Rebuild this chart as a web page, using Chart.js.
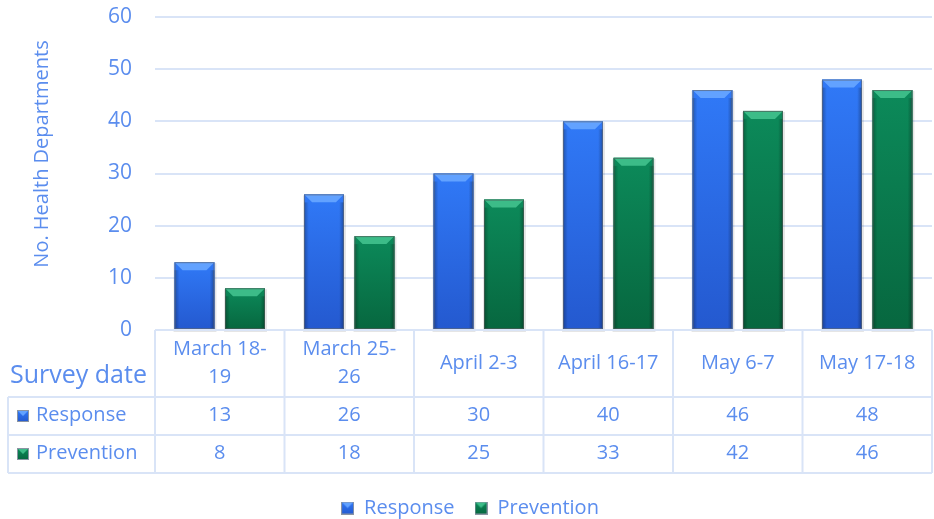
<!DOCTYPE html>
<html>
<head>
<meta charset="utf-8">
<script src="https://cdn.jsdelivr.net/npm/chart.js@4"></script>
<style>
  html, body { margin: 0; padding: 0; background: #fff; }
  #wrap { width: 934px; height: 519px; }
</style>
</head>
<body>
<div id="wrap"><canvas id="c" width="934" height="519"></canvas></div>
<script>
const categories = [["March 18-", "19"], ["March 25-", "26"], "April 2-3", "April 16-17", "May 6-7", "May 17-18"];
const response = [13, 26, 30, 40, 46, 48];
const prevention = [8, 18, 25, 33, 42, 46];
const yTicks = [0, 10, 20, 30, 40, 50, 60];
const yTitle = "No. Health Departments";

const txt = "#5B8DEE";
const grid = "#D9E4F7";
const FONT = "'Open Sans', sans-serif";

const palette = {
  Response: { top: "#3079F7", bottom: "#2459CF", light: "#62A2FF", dark: "#173F9A", edge: "#5E6878" },
  Prevention: { top: "#0C8A5A", bottom: "#07673F", light: "#3CBC88", dark: "#03472B", edge: "#4D5A55" }
};

function swatch(ctx, x, y, s, p) {
  const g = ctx.createLinearGradient(0, y, 0, y + s);
  g.addColorStop(0, p.top); g.addColorStop(1, p.bottom);
  ctx.fillStyle = g;
  ctx.fillRect(x, y, s, s);
  ctx.fillStyle = p.light;
  ctx.beginPath();
  ctx.moveTo(x, y); ctx.lineTo(x + s, y); ctx.lineTo(x + s / 2, y + s / 2); ctx.closePath();
  ctx.fill();
  ctx.strokeStyle = "#8A94A3";
  ctx.lineWidth = 1;
  ctx.strokeRect(x + 0.5, y + 0.5, s - 1, s - 1);
}

function swatchCanvas(p) {
  const cv = document.createElement("canvas");
  cv.width = 13; cv.height = 13;
  swatch(cv.getContext("2d"), 0, 0, 13, p);
  return cv;
}

// bevel look on the bars, using the bar elements placed by the scales
const bevel = {
  id: "bevel",
  afterDatasetsDraw(chart) {
    const ctx = chart.ctx;
    chart.data.datasets.forEach((ds, di) => {
      const p = palette[ds.label];
      chart.getDatasetMeta(di).data.forEach(bar => {
        const l = bar.x - bar.width / 2, r = bar.x + bar.width / 2;
        const t = bar.y, b = bar.base, k = 8;
        ctx.save();
        ctx.fillStyle = "rgba(0,0,0,0.10)";
        ctx.fillRect(l - 1, t + 1, r - l + 3, b - t + 2);
        const g = ctx.createLinearGradient(0, t, 0, b);
        g.addColorStop(0, p.top); g.addColorStop(1, p.bottom);
        ctx.fillStyle = g;
        ctx.fillRect(l, t, r - l, b - t);
        // top bevel
        ctx.fillStyle = p.light;
        ctx.beginPath();
        ctx.moveTo(l, t); ctx.lineTo(r, t); ctx.lineTo(r - k, t + k); ctx.lineTo(l + k, t + k); ctx.closePath();
        ctx.fill();
        // darker side edges
        const sg = ctx.createLinearGradient(l, 0, r, 0);
        sg.addColorStop(0, "rgba(0,0,0,0.28)");
        sg.addColorStop(0.12, "rgba(0,0,0,0)");
        sg.addColorStop(0.88, "rgba(0,0,0,0)");
        sg.addColorStop(1, "rgba(0,0,0,0.32)");
        ctx.fillStyle = sg;
        ctx.fillRect(l, t + k, r - l, b - t - k);
        ctx.strokeStyle = p.edge;
        ctx.globalAlpha = 0.7;
        ctx.lineWidth = 1;
        ctx.strokeRect(l + 0.5, t + 0.5, r - l - 1, b - t - 1);
        ctx.restore();
      });
    });
  }
};

// data table under the plot area (in the x axis box) and the y axis title
const dataTable = {
  id: "dataTable",
  afterDraw(chart) {
    const ctx = chart.ctx;
    const x = chart.scales.x;
    const area = chart.chartArea;
    const n = categories.length;
    const cw = (area.right - area.left) / n;
    const top = area.bottom, r1 = top + 67, r2 = r1 + 38, r3 = r2 + 38;
    const left = 8;
    ctx.save();
    ctx.strokeStyle = grid;
    ctx.lineWidth = 2;
    ctx.beginPath();
    ctx.moveTo(area.left, top); ctx.lineTo(area.right, top);
    [r1, r2, r3].forEach(y => { ctx.moveTo(left, y); ctx.lineTo(area.right, y); });
    ctx.moveTo(left, r1); ctx.lineTo(left, r3);
    for (let i = 0; i <= n; i++) {
      const cx = area.left + i * cw;
      ctx.moveTo(cx, top); ctx.lineTo(cx, r3);
    }
    ctx.stroke();

    ctx.fillStyle = txt;
    ctx.textAlign = "center";
    ctx.textBaseline = "middle";
    ctx.font = "20px " + FONT;
    categories.forEach((c, i) => {
      const cx = x.getPixelForValue(i);
      const lines = Array.isArray(c) ? c : [c];
      const lh = 28;
      lines.forEach((s, j) => {
        ctx.fillText(s, cx, (top + r1) / 2 + (j - (lines.length - 1) / 2) * lh);
      });
      ctx.fillText(String(response[i]), cx, (r1 + r2) / 2 - 1);
      ctx.fillText(String(prevention[i]), cx, (r2 + r3) / 2 - 1);
    });
    ctx.textAlign = "left";
    ctx.font = "25px " + FONT;
    ctx.fillText("Survey date", 10, (top + r1) / 2 + 12);
    ctx.font = "20px " + FONT;
    swatch(ctx, 17, (r1 + r2) / 2 - 6, 12, palette.Response);
    ctx.fillStyle = txt;
    ctx.fillText("Response", 36, (r1 + r2) / 2 - 1);
    swatch(ctx, 17, (r2 + r3) / 2 - 6, 12, palette.Prevention);
    ctx.fillStyle = txt;
    ctx.fillText("Prevention", 36, (r2 + r3) / 2 - 1);

    // axis title
    ctx.translate(42, 154);
    ctx.rotate(-Math.PI / 2);
    ctx.textAlign = "center";
    ctx.fillText(yTitle, 0, 0);
    ctx.restore();
  }
};

new Chart(document.getElementById("c"), {
  type: "bar",
  data: {
    labels: categories,
    datasets: [
      { label: "Response", data: response, backgroundColor: palette.Response.top },
      { label: "Prevention", data: prevention, backgroundColor: palette.Prevention.top }
    ]
  },
  options: {
    responsive: false,
    animation: false,
    categoryPercentage: 0.78,
    barPercentage: 0.79,
    layout: { padding: { left: 8, right: 2, top: 17, bottom: -9 } },
    scales: {
      x: {
        grid: { display: false },
        border: { display: false },
        ticks: { display: false },
        afterFit(s) { s.height = 148; }
      },
      y: {
        min: 0, max: 60,
        afterBuildTicks(s) { s.ticks = yTicks.map(v => ({ value: v })); },
        afterFit(s) { s.width = 147; },
        grid: { color: grid, lineWidth: 2, drawTicks: true, tickLength: 23, tickColor: "rgba(0,0,0,0)" },
        border: { display: false },
        ticks: { color: txt, font: { family: FONT, size: 21 }, padding: 0 }
      }
    },
    plugins: {
      legend: {
        position: "bottom",
        labels: {
          color: txt,
          font: { family: FONT, size: 20 },
          usePointStyle: true,
          boxWidth: 13,
          boxHeight: 13,
          padding: 20,
          generateLabels(chart) {
            return chart.data.datasets.map((d, i) => ({
              text: d.label,
              pointStyle: swatchCanvas(palette[d.label]),
              fontColor: txt,
              lineWidth: 0,
              datasetIndex: i
            }));
          }
        }
      },
      tooltip: { enabled: false }
    }
  },
  plugins: [bevel, dataTable]
});
</script>
</body>
</html>
